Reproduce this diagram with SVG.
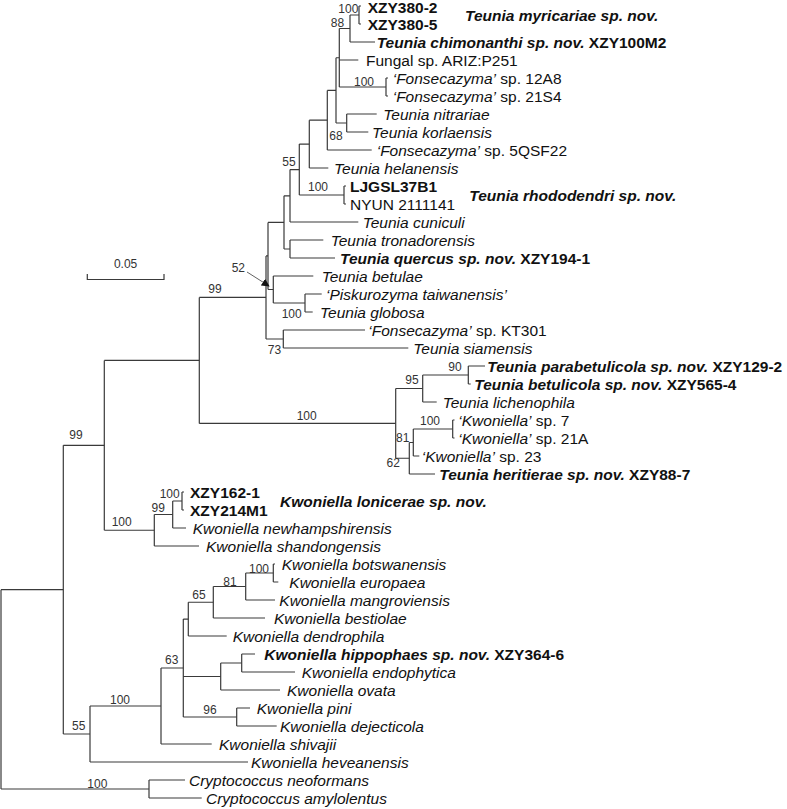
<svg xmlns="http://www.w3.org/2000/svg" width="787" height="809" viewBox="0 0 787 809">
<defs>
<style>
.e{fill:none;stroke:#3a3a3a;stroke-width:1.2}
text{font-family:"Liberation Sans",Arial,sans-serif;fill:#111}
.t{font-size:15.5px}
.i{font-style:italic}
.b{font-weight:bold}
.bi{font-weight:bold;font-style:italic}
.n{font-size:12px;fill:#333}
</style>
<marker id="ah" viewBox="0 0 10 10" refX="9" refY="5" markerWidth="8" markerHeight="8" orient="auto" markerUnits="userSpaceOnUse"><path d="M0 0L10 5L0 10z" fill="#111"/></marker>
</defs>
<rect width="787" height="809" fill="#fff"/>
<g id="edges" class="e">
<path d="M1 589.65V789M1 589.65H63.3M1 789H149"/>
<path d="M63.3 445.3V734M63.3 445.3H104.3M63.3 734H90"/>
<path d="M104.3 360.4V530.25M104.3 360.4H199.3M104.3 530.25H154.3"/>
<path d="M199.3 297.45V423.4M199.3 297.45H266M199.3 423.4H395.7"/>
<path d="M266 255.9V339M266 255.9H268M266 339H283.3"/>
<path d="M268 222.4V289.5M268 222.4H284M268 289.5H273.3"/>
<path d="M284 195.8V249M284 195.8H290M284 249H290"/>
<path d="M290 169.6V222M290 169.6H299.3M290 222H358.3"/>
<path d="M290 240V258M290 240H323.3M290 258H335"/>
<path d="M299.3 144.1V195M299.3 144.1H309.3M299.3 195H344"/>
<path d="M344 186V204M344 186H346M344 204H346"/>
<path d="M309.3 120.2V168M309.3 120.2H327.3M309.3 168H328.3"/>
<path d="M327.3 90.4V150M327.3 90.4H336M327.3 150H371.7"/>
<path d="M336 57.75V123M336 57.75H339.3M336 123H346.7"/>
<path d="M346.7 114V132M346.7 114H376.7M346.7 132H368.3"/>
<path d="M339.3 28.5V87M339.3 28.5H350M339.3 60H358.3M339.3 87H386"/>
<path d="M386 78V96M386 78H388M386 96H388"/>
<path d="M350 15V42M350 15H359M350 42H375"/>
<path d="M359 6V24M359 6H361M359 24H361"/>
<path d="M273.3 276V303M273.3 276H313.3M273.3 303H305"/>
<path d="M305 294V312M305 294H321.7M305 312H312.7"/>
<path d="M283.3 330V348M283.3 330H365M283.3 348H408.3"/>
<path d="M395.7 388.5V458.25M395.7 388.5H422.7M395.7 458.25H409.3"/>
<path d="M422.7 375V402M422.7 375H468.3M422.7 402H436.7"/>
<path d="M468.3 366V384M468.3 366H485M468.3 384H470.7"/>
<path d="M409.3 442.5V474M409.3 442.5H413.3M409.3 474H435"/>
<path d="M413.3 429V456M413.3 429H452.7M413.3 456H419.3"/>
<path d="M452.7 420V438M452.7 420H454.5M452.7 438H454.5"/>
<path d="M154.3 514.5V546M154.3 514.5H172.7M154.3 546H199"/>
<path d="M172.7 501V528M172.7 501H182M172.7 528H186"/>
<path d="M182 492V510M182 492H184M182 510H184"/>
<path d="M90 706V762M90 706H161M90 762H248"/>
<path d="M161 668V744M161 668H183.3M161 744H211.7"/>
<path d="M183.3 619.1V717M183.3 619.1H188.3M183.3 676.5H220.7M183.3 717H236.7"/>
<path d="M188.3 602.25V636M188.3 602.25H213.3M188.3 636H226.7"/>
<path d="M213.3 586.5V618M213.3 586.5H245.7M213.3 618H265"/>
<path d="M245.7 573V600M245.7 573H273.3M245.7 600H275"/>
<path d="M273.3 564V582M273.3 564H275M273.3 582H278.3"/>
<path d="M220.7 663V690M220.7 663H241.7M220.7 690H280"/>
<path d="M241.7 654V672M241.7 654H255M241.7 672H295"/>
<path d="M236.7 708V726M236.7 708H250M236.7 726H276.7"/>
<path d="M149 780V798M149 780H185M149 798H201.7"/>
<path d="M87.3 274V279.5H164V274"/>
<path d="M247 272L269 286" stroke-width="0.8" marker-end="url(#ah)"/>
</g>
<g id="scale"><text class="n" x="125.6" y="268" text-anchor="middle">0.05</text></g>
<g id="support" class="n">
<text class="n" x="348.3" y="12.6" text-anchor="middle">100</text>
<text class="n" x="337.5" y="27" text-anchor="middle">88</text>
<text class="n" x="364" y="85.5" text-anchor="middle">100</text>
<text class="n" x="336" y="140" text-anchor="middle">68</text>
<text class="n" x="289" y="166" text-anchor="middle">55</text>
<text class="n" x="318" y="191" text-anchor="middle">100</text>
<text class="n" x="245" y="272" text-anchor="end">52</text>
<text class="n" x="291.7" y="317.6" text-anchor="middle">100</text>
<text class="n" x="274.5" y="354" text-anchor="middle">73</text>
<text class="n" x="215" y="292.6" text-anchor="middle">99</text>
<text class="n" x="306.7" y="420" text-anchor="middle">100</text>
<text class="n" x="455" y="371" text-anchor="middle">90</text>
<text class="n" x="412" y="384" text-anchor="middle">95</text>
<text class="n" x="430" y="425" text-anchor="middle">100</text>
<text class="n" x="402.7" y="442" text-anchor="middle">81</text>
<text class="n" x="393.3" y="467" text-anchor="middle">62</text>
<text class="n" x="76" y="439.3" text-anchor="middle">99</text>
<text class="n" x="121.7" y="526" text-anchor="middle">100</text>
<text class="n" x="158.3" y="512" text-anchor="middle">99</text>
<text class="n" x="169.7" y="497.6" text-anchor="middle">100</text>
<text class="n" x="259" y="572.6" text-anchor="middle">100</text>
<text class="n" x="230" y="586" text-anchor="middle">81</text>
<text class="n" x="199" y="598.6" text-anchor="middle">65</text>
<text class="n" x="171.7" y="664.3" text-anchor="middle">63</text>
<text class="n" x="210" y="714.3" text-anchor="middle">96</text>
<text class="n" x="120" y="703.6" text-anchor="middle">100</text>
<text class="n" x="78.8" y="730" text-anchor="middle">55</text>
<text class="n" x="97.3" y="787.6" text-anchor="middle">100</text>
</g>
<g id="taxa" class="t">
<g id="n1"><text class="t b" x="367.7" y="12.8">XZY380-2</text></g>
<g id="n2"><text class="t b" x="367.7" y="30">XZY380-5</text></g>
<g id="sp1"><text class="t bi" x="465" y="20.5">Teunia myricariae sp. nov.</text></g>
<g id="n3"><text class="t" x="376.7" y="47.5"><tspan class="bi">Teunia chimonanthi sp. nov.</tspan><tspan class="b"> XZY100M2</tspan></text></g>
<g id="n4"><text class="t" x="366" y="65.5">Fungal sp. ARIZ:P251</text></g>
<g id="n5"><text class="t" x="392.7" y="83.5"><tspan class="i">‘Fonsecazyma’</tspan> sp. 12A8</text></g>
<g id="n6"><text class="t" x="392.7" y="101.5"><tspan class="i">‘Fonsecazyma’</tspan> sp. 21S4</text></g>
<g id="n7"><text class="t i" x="383.3" y="119.5">Teunia nitrariae</text></g>
<g id="n8"><text class="t i" x="372" y="137.5">Teunia korlaensis</text></g>
<g id="n9"><text class="t" x="376.7" y="155.5"><tspan class="i">‘Fonsecazyma’</tspan> sp. 5QSF22</text></g>
<g id="n10"><text class="t i" x="334" y="173.5">Teunia helanensis</text></g>
<g id="n11"><text class="t b" x="350" y="191.5">LJGSL37B1</text></g>
<g id="n12"><text class="t" x="350" y="209.5">NYUN 2111141</text></g>
<g id="sp2"><text class="t bi" x="469.3" y="200.5">Teunia rhododendri sp. nov.</text></g>
<g id="n13"><text class="t i" x="362.7" y="227.5">Teunia cuniculi</text></g>
<g id="n14"><text class="t i" x="330.7" y="245.5">Teunia tronadorensis</text></g>
<g id="n15"><text class="t" x="340" y="263.5"><tspan class="bi">Teunia quercus sp. nov.</tspan><tspan class="b"> XZY194-1</tspan></text></g>
<g id="n16"><text class="t i" x="321.7" y="281.5">Teunia betulae</text></g>
<g id="n17"><text class="t i" x="326" y="299.5">‘Piskurozyma taiwanensis’</text></g>
<g id="n18"><text class="t i" x="320" y="317.5">Teunia globosa</text></g>
<g id="n19"><text class="t" x="368.3" y="335.5"><tspan class="i">‘Fonsecazyma’</tspan> sp. KT301</text></g>
<g id="n20"><text class="t i" x="413.3" y="353.5">Teunia siamensis</text></g>
<g id="n21"><text class="t" x="487.3" y="371.5"><tspan class="bi">Teunia parabetulicola sp. nov.</tspan><tspan class="b"> XZY129-2</tspan></text></g>
<g id="n22"><text class="t" x="474.3" y="389.5"><tspan class="bi">Teunia betulicola sp. nov.</tspan><tspan class="b"> XZY565-4</tspan></text></g>
<g id="n23"><text class="t i" x="442.7" y="407.5">Teunia lichenophila</text></g>
<g id="n24"><text class="t" x="458.3" y="425.5"><tspan class="i">‘Kwoniella’</tspan> sp. 7</text></g>
<g id="n25"><text class="t" x="458.3" y="443.5"><tspan class="i">‘Kwoniella’</tspan> sp. 21A</text></g>
<g id="n26"><text class="t" x="421.7" y="461.5"><tspan class="i">‘Kwoniella’</tspan> sp. 23</text></g>
<g id="n27"><text class="t" x="439.3" y="479.5"><tspan class="bi">Teunia heritierae sp. nov.</tspan><tspan class="b"> XZY88-7</tspan></text></g>
<g id="n28"><text class="t b" x="190" y="497.5">XZY162-1</text></g>
<g id="n29"><text class="t b" x="190" y="515.5">XZY214M1</text></g>
<g id="sp3"><text class="t bi" x="280" y="507">Kwoniella lonicerae sp. nov.</text></g>
<g id="n30"><text class="t i" x="192.7" y="533.5">Kwoniella newhampshirensis</text></g>
<g id="n31"><text class="t i" x="206" y="551.5">Kwoniella shandongensis</text></g>
<g id="n32"><text class="t i" x="281.7" y="569.5">Kwoniella botswanensis</text></g>
<g id="n33"><text class="t i" x="289.3" y="587.5">Kwoniella europaea</text></g>
<g id="n34"><text class="t i" x="279.3" y="605.5">Kwoniella mangroviensis</text></g>
<g id="n35"><text class="t i" x="274" y="623.5">Kwoniella bestiolae</text></g>
<g id="n36"><text class="t i" x="232.7" y="641.5">Kwoniella dendrophila</text></g>
<g id="n37"><text class="t" x="264.3" y="659.5"><tspan class="bi">Kwoniella hippophaes sp. nov.</tspan><tspan class="b"> XZY364-6</tspan></text></g>
<g id="n38"><text class="t i" x="301.7" y="677.5">Kwoniella endophytica</text></g>
<g id="n39"><text class="t i" x="287" y="695.5">Kwoniella ovata</text></g>
<g id="n40"><text class="t i" x="256.7" y="713.5">Kwoniella pini</text></g>
<g id="n41"><text class="t i" x="280" y="731.5">Kwoniella dejecticola</text></g>
<g id="n42"><text class="t i" x="219" y="749.5">Kwoniella shivajii</text></g>
<g id="n43"><text class="t i" x="251" y="767.5">Kwoniella heveanensis</text></g>
<g id="n44"><text class="t i" x="189" y="785.5">Cryptococcus neoformans</text></g>
<g id="n45"><text class="t i" x="206" y="803.5">Cryptococcus amylolentus</text></g>
</g>
</svg>
